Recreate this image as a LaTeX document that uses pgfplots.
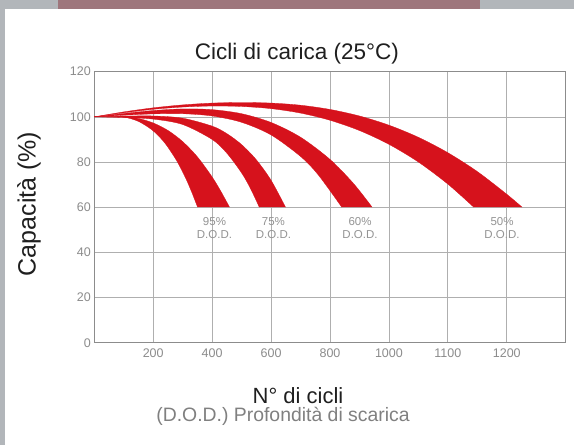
\documentclass[border=0pt]{standalone}
\usepackage{pgfplots}
\pgfplotsset{compat=1.18}
\usepgfplotslibrary{fillbetween}
\usepackage{fontspec}
\setmainfont{Liberation Sans}
\definecolor{bandred}{RGB}{214,18,28}
\definecolor{gridgray}{RGB}{175,175,175}
\definecolor{axgray}{RGB}{140,140,140}
\definecolor{ticktext}{RGB}{140,140,140}
\definecolor{bgray}{RGB}{178,182,186}
\definecolor{mauve}{RGB}{158,118,124}
\begin{document}
\begin{tikzpicture}
\begin{axis}[
  at={(94.3bp,102.3bp)}, anchor=south west,
  scale only axis, width=471.4bp, height=271bp,
  xmin=0, xmax=8, ymin=0, ymax=120,
  xtick={1,2,3,4,5,6,7},
  xticklabels={200,400,600,800,1000,1100,1200},
  ytick={0,20,40,60,80,100,120},
  grid=major,
  major grid style={draw=gridgray, line width=0.7pt},
  axis line style={draw=axgray, line width=1.3pt},
  major tick length=0pt,
  /pgf/number format/assume math mode=true,
  tick label style={font=\fontsize{12.5bp}{15bp}\selectfont, text=ticktext},
  xticklabel style={yshift=-3bp},
  clip=false,
  every axis plot/.append style={line width=0.3pt},
]
\begin{pgfonlayer}{axis background}
\fill[bgray] ([shift={(-94.3bp,-102.3bp)}]rel axis cs:0,0) rectangle ++(574bp,445bp);
\fill[mauve] ([shift={(-36.3bp,333.7bp)}]rel axis cs:0,0) rectangle ++(422bp,9bp);
\fill[white] ([shift={(-89.3bp,-102.3bp)}]rel axis cs:0,0) rectangle ++(569bp,436bp);
\end{pgfonlayer}
% 95% DOD
\addplot[name path=a1, draw=bandred, smooth] coordinates {(0,100) (0.25,100.31) (0.5,100.17) (0.75,99.27) (1,97.3) (1.25,93.98) (1.5,89.05) (1.75,82.27) (2,73.37) (2.15,66.92) (2.295,60)};
\addplot[name path=a2, draw=bandred, smooth] coordinates {(0,100) (0.25,100.34) (0.5,99.92) (0.75,97.99) (1,93.8) (1.2,88.31) (1.4,80.5) (1.55,72.89) (1.65,66.89) (1.753,60)};
\addplot[fill=bandred, draw=none] fill between[of=a1 and a2];
% 75% DOD
\addplot[name path=b1, draw=bandred, smooth] coordinates {(0,100) (0.5,100.33) (1,100.4) (1.5,99.41) (2,95.9) (2.25,92.56) (2.5,87.71) (2.75,80.98) (3,71.92) (3.245,60)};
\addplot[name path=b2, draw=bandred, smooth] coordinates {(0,100) (0.5,99.7) (1,99) (1.5,96.61) (2,90) (2.25,83.92) (2.5,75.17) (2.65,68.32) (2.8,60)};
\addplot[fill=bandred, draw=none] fill between[of=b1 and b2];
% 60% DOD
\addplot[name path=c1, draw=bandred, smooth] coordinates {(0,100) (0.5,101.51) (1,102.8) (1.5,103.51) (2,103.2) (2.5,101.4) (3,97.52) (3.5,90.99) (4,81.16) (4.4,70.45) (4.715,60)};
\addplot[name path=c2, draw=bandred, smooth] coordinates {(0,100) (0.5,100.73) (1,101.31) (1.5,101.39) (2,100.4) (2.5,97.59) (3,92) (3.5,82.48) (3.8,74.34) (4.2,60)};
\addplot[fill=bandred, draw=none] fill between[of=c1 and c2];
% 50% DOD
\addplot[name path=d1, draw=bandred, smooth] coordinates {(0,100) (0.5,102.2) (1,104.0) (1.5,105.3) (2,106.1) (2.5,106.35) (3,106.11) (3.5,105.16) (4,103.29) (4.5,100.39) (5,96.32) (5.5,90.95) (6,84.13) (6.5,75.78) (7,65.73) (7.26,60)};
\addplot[name path=d2, draw=bandred, smooth] coordinates {(0,100) (0.5,101.8) (1,103.35) (1.5,104.35) (2,104.8) (2.5,104.6) (3,103.64) (3.5,101.67) (4,98.5) (4.5,93.95) (5,87.85) (5.5,80) (6,70.24) (6.44,60)};
\addplot[fill=bandred, draw=none] fill between[of=d1 and d2];
\node[align=center, font=\fontsize{11.5bp}{13.3bp}\selectfont, text=black!42, inner sep=0pt] at (axis cs:2.04,50.65) {95\%\\D.O.D.};
\node[align=center, font=\fontsize{11.5bp}{13.3bp}\selectfont, text=black!42, inner sep=0pt] at (axis cs:3.04,50.65) {75\%\\D.O.D.};
\node[align=center, font=\fontsize{11.5bp}{13.3bp}\selectfont, text=black!42, inner sep=0pt] at (axis cs:4.51,50.65) {60\%\\D.O.D.};
\node[align=center, font=\fontsize{11.5bp}{13.3bp}\selectfont, text=black!42, inner sep=0pt] at (axis cs:6.92,50.65) {50\%\\D.O.D.};
\end{axis}
\node[font=\fontsize{22.5bp}{26bp}\selectfont, text=black!88] at (297bp,391bp) {Cicli di carica (25°C)};
\node[font=\fontsize{22bp}{26bp}\selectfont, text=black!88, inner sep=1bp] at (298bp,49.5bp) {N° di cicli};
\node[font=\fontsize{19.4bp}{23bp}\selectfont, text=black!50, inner sep=1bp] at (283bp,28.5bp) {(D.O.D.) Profondità di scarica};
\node[font=\fontsize{25bp}{29bp}\selectfont, text=black!88, rotate=90] at (29bp,241bp) {Capacità (\%)};
\end{tikzpicture}
\end{document}
